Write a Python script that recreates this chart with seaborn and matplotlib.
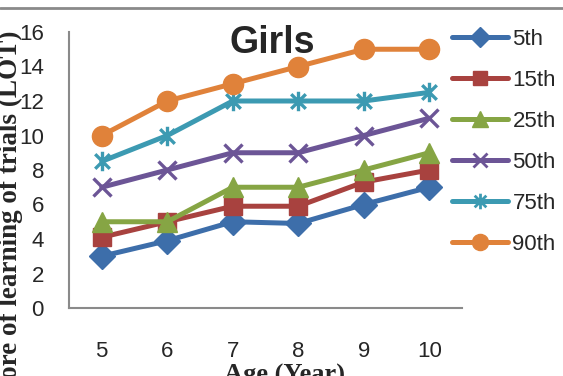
import matplotlib
matplotlib.use("Agg")
import matplotlib.pyplot as plt
import seaborn as sns
import pandas as pd
from matplotlib.path import Path
from matplotlib.lines import Line2D

ages = ["5", "6", "7", "8", "9", "10"]
p5 = [3, 3.9, 5, 4.9, 6, 7]
p15 = [4.1, 5, 5.9, 5.9, 7.3, 8]
p25 = [5, 5, 7, 7, 8, 9]
p50 = [7, 8, 9, 9, 10, 11]
p75 = [8.5, 10, 12, 12, 12, 12.5]
p90 = [10, 12, 13, 14, 15, 15]
series_names = ["5th", "15th", "25th", "50th", "75th", "90th"]
series_vals = [p5, p15, p25, p50, p75, p90]
yticks = [0, 2, 4, 6, 8, 10, 12, 14, 16]

colors = ["#3D6EAA", "#A8423F", "#86A544", "#6C5596", "#3C9AB2", "#E0823A"]
star = Path([(0, -1), (0, 1), (-0.75, -0.75), (0.75, 0.75), (-0.75, 0.75), (0.75, -0.75)],
            [Path.MOVETO, Path.LINETO, Path.MOVETO, Path.LINETO, Path.MOVETO, Path.LINETO])
markers = ["D", "s", "^", "x", star, "o"]
msizes = [13, 13, 14, 13, 14, 14.5]

sns.set_style("white")
narrow = ["Liberation Sans Narrow", "Liberation Sans", "DejaVu Sans"]
plt.rcParams["font.family"] = narrow

fig = plt.figure(figsize=(5.63, 3.76), dpi=100)
ax = fig.add_axes([69 / 563, 1 - 308 / 376, (462 - 69) / 563, (308 - 32) / 376])

rows = []
for name, vals in zip(series_names, series_vals):
    for i, v in enumerate(vals):
        rows.append({"x": i, "y": v, "series": name})
df = pd.DataFrame(rows)


def is_filled(m):
    return m != "x" and not isinstance(m, Path)


for name, c, m, ms in zip(series_names, colors, markers, msizes):
    sub = df[df["series"] == name]
    f = is_filled(m)
    sns.lineplot(data=sub, x="x", y="y", ax=ax, color=c, marker=m, markersize=ms,
                 linewidth=3.6, markeredgecolor=c, markerfacecolor=c if f else "none",
                 markeredgewidth=1 if f else 2.4, label=name, legend=False)

ax.set_xlim(-0.5, 5.5)
ax.set_ylim(0, 16)
ax.set_yticks(yticks)
ax.set_yticklabels([str(t) for t in yticks], fontsize=16)
ax.set_xticks(range(len(ages)))
ax.set_xticklabels(ages, fontsize=16)
ax.set_xticks([i - 0.5 for i in range(len(ages) + 1)], minor=True)
ax.tick_params(axis="x", which="major", length=0, pad=24)
ax.tick_params(axis="x", which="minor", length=5, width=1.3, color="#8a8a8a", direction="out")
ax.tick_params(axis="y", which="major", length=6, width=1.3, color="#8a8a8a", direction="out", pad=12)
ax.set_xlabel("")
ax.set_ylabel("")
for s in ["top", "right"]:
    ax.spines[s].set_visible(False)
for s in ["left", "bottom"]:
    ax.spines[s].set_color("#8a8a8a")
    ax.spines[s].set_linewidth(1.5)
ax.grid(False)

fig.text(272 / 563, 1 - 43 / 376, "Girls", fontsize=27, fontweight="bold",
         ha="center", va="center", family=narrow)

handles = [Line2D([], [], color=c, marker=m, markersize=ms * 0.8, linewidth=3.6,
                  markeredgecolor=c,
                  markerfacecolor=c if is_filled(m) else "none",
                  markeredgewidth=1 if is_filled(m) else 2.0)
           for c, m, ms in zip(colors, markers, msizes)]
fig.legend(handles, series_names, loc="upper left", bbox_to_anchor=(452 / 563, 1 - 29 / 376),
           frameon=False, fontsize=16, handlelength=2.5, labelspacing=0.9, handletextpad=0.22,
           borderaxespad=0, borderpad=0)

fig.text(17 / 563, 1 - 30 / 376, "Score of learning of trials (LOT)", rotation=90,
         rotation_mode="anchor", ha="right", va="baseline", fontsize=19.5, fontweight="bold",
         family=["Liberation Serif", "DejaVu Serif"])
fig.text(285 / 563, 1 - 364 / 376, "Age (Year)", ha="center", va="top", fontsize=19,
         fontweight="bold", family=["Liberation Serif", "DejaVu Serif"])

fig.add_artist(Line2D([0, 1], [1 - 8 / 376, 1 - 8 / 376], transform=fig.transFigure,
                      color="#8a8a8a", linewidth=2))

fig.savefig("out.png", dpi=100)
